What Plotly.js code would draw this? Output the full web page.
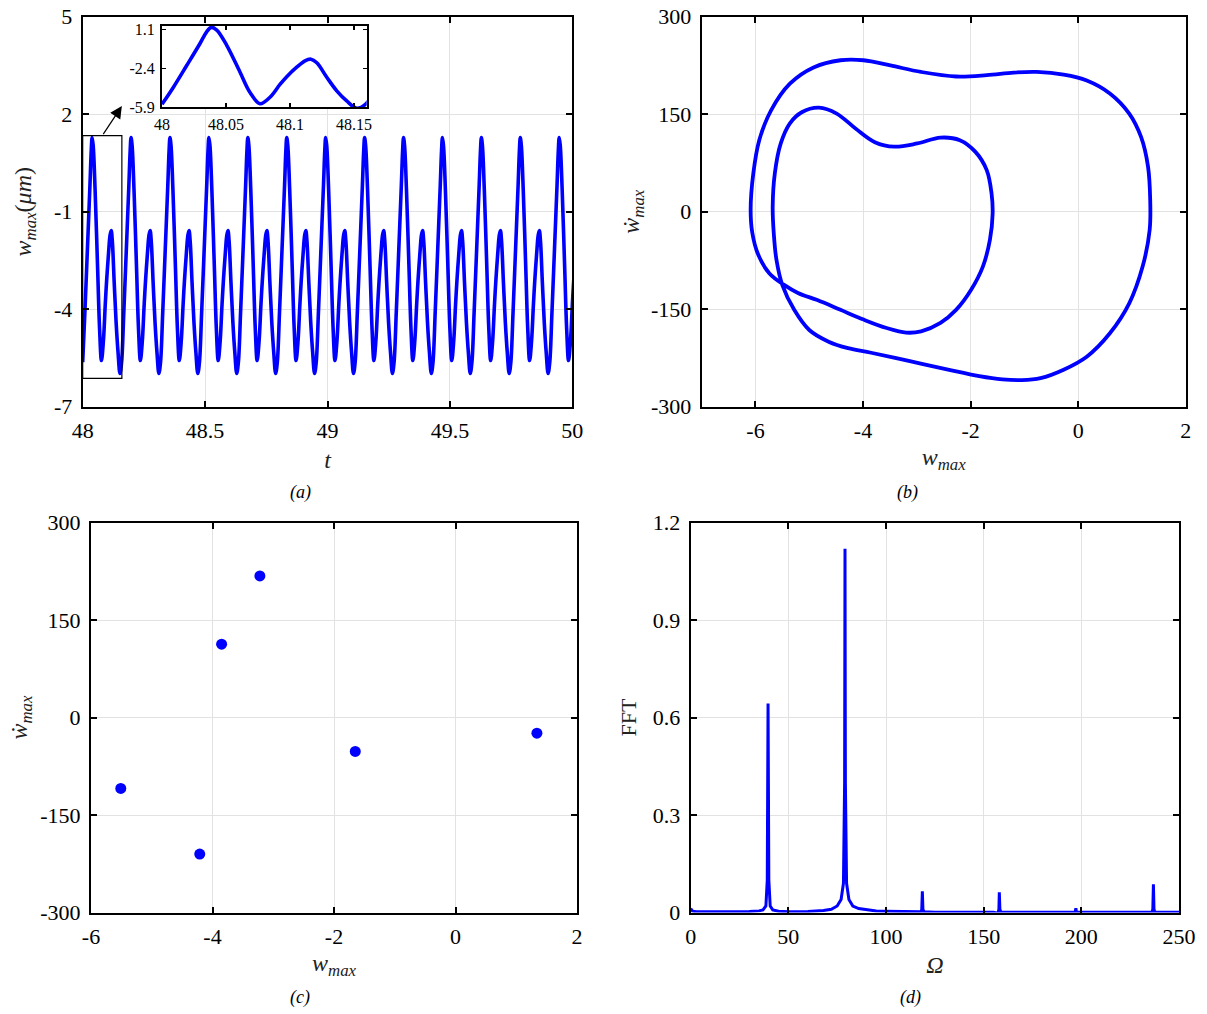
<!DOCTYPE html>
<html>
<head>
<meta charset="utf-8">
<script src="https://cdn.plot.ly/plotly-3.0.1.min.js"></script>
<style>
html,body{margin:0;padding:0;background:#ffffff;}
#chart{width:1207px;height:1014px;}
</style>
</head>
<body>
<div id="chart"></div>
<script>
const periodPhase = [0.0000, 0.0088, 0.0193, 0.0297, 0.0349, 0.0385, 0.0428, 0.0506, 0.0610, 0.0688,
                     0.0766, 0.0844, 0.0922, 0.0975, 0.1053, 0.1118, 0.1164, 0.1210, 0.1288, 0.1366,
                     0.1444, 0.1522];
const periodW     = [-5.63, -4.12, -2.15, -0.17, 0.88, 1.28, 1.04, -0.33, -2.75, -4.57,
                     -5.58, -5.00, -3.85, -3.15, -2.30, -1.72, -1.58, -1.90, -3.20, -4.42,
                     -5.33, -5.98];
const period = 0.159;          // repetition period of the steady-state response
const timeWindow = [48, 50];
const insetWindow = [48, 48.16];
const insetYWindow = [-5.9, 1.43];

// tick labels
const tTicks = [48, 48.5, 49, 49.5, 50];
const tTickText = ['48', '48.5', '49', '49.5', '50'];
const wTicksA = [-7, -4, -1, 2, 5];
const wTickTextA = ['-7', '-4', '-1', '2', '5'];
const insetXTicks = [48, 48.05, 48.1, 48.15];
const insetXTickText = ['48', '48.05', '48.1', '48.15'];
const insetYTicks = [-5.9, -2.4, 1.1];
const insetYTickText = ['-5.9', '-2.4', '1.1'];

// ---------- (b) phase portrait (w_max, dw_max/dt) over one period ----------
const phaseW = [-6.09, -6.04, -5.93, -5.71, -5.36, -4.92, -4.42, -3.99, -3.49, -2.92,
                -2.27, -1.70, -1.20, -0.77, -0.27, 0.16, 0.59, 0.95, 1.17, 1.30,
                1.34, 1.33, 1.20, 0.95, 0.59, 0.16, -0.27, -0.70, -1.05, -1.41,
                -1.84, -2.42, -3.13, -3.85, -4.28, -4.64, -5.00, -5.28, -5.50, -5.61,
                -5.66, -5.68, -5.64, -5.53, -5.36, -5.14, -4.82, -4.49, -4.14, -3.78,
                -3.42, -2.99, -2.56, -2.20, -1.91, -1.70, -1.61, -1.59, -1.64, -1.77,
                -1.99, -2.27, -2.56, -2.92, -3.20, -3.56, -3.99, -4.42, -4.85, -5.21,
                -5.46, -5.74, -5.95, -6.06, -6.09];
const phaseWdot = [3, 59, 110, 156, 197, 222, 233, 233, 225, 215,
                   208, 210, 214, 215, 211, 202, 182, 151, 115, 69,
                   18, -28, -84, -141, -187, -223, -243, -256, -259, -258,
                   -253, -243, -230, -217, -210, -200, -182, -151, -113, -74,
                   -33, 8, 59, 105, 136, 153, 160, 151, 128, 107,
                   100, 105, 114, 110, 92, 64, 28, -3, -43, -84,
                   -120, -151, -171, -184, -186, -179, -166, -151, -136, -125,
                   -113, -95, -66, -32, 3];
const wTicksB = [-6, -4, -2, 0, 2];
const wTickTextB = ['-6', '-4', '-2', '0', '2'];
const wdotTicks = [-300, -150, 0, 150, 300];
const wdotTickText = ['-300', '-150', '0', '150', '300'];

// ---------- (c) Poincaré section ----------
const poincareW    = [-3.22, -3.85, -5.51, -4.21, -1.65, 1.34];
const poincareWdot = [218, 113, -109, -210, -52, -24];

// ---------- (d) frequency spectrum ----------
const fftOmega = [0, 1, 3, 20, 30, 35, 37, 38.5, 39.2, 39.6, 40.0, 40.7, 42, 45, 50,
                  60, 68, 72, 75, 77, 78.2, 78.8, 79.0, 79.2, 79.8, 81, 83, 86, 90, 95,
                  100, 110, 117.2, 117.8, 118.3, 118.6, 118.9, 119.4, 125, 140, 155,
                  157.3, 157.8, 158.0, 158.3, 158.8, 170, 190, 196.8, 197.2, 197.5, 197.9, 205,
                  225, 236.2, 236.6, 236.9, 237.2, 237.6, 245, 250];
const fftAmp   = [0.012, 0.004, 0.002, 0.002, 0.003, 0.005, 0.008, 0.02, 0.1, 0.643, 0.1, 0.02, 0.008, 0.004, 0.002,
                  0.003, 0.006, 0.01, 0.02, 0.04, 0.09, 0.4, 1.12, 0.4, 0.09, 0.04, 0.02, 0.012, 0.008, 0.005,
                  0.004, 0.003, 0.002, -0.002, 0.01, 0.065, 0.01, 0.002, 0.001, 0.001, 0.001,
                  -0.002, 0.01, 0.062, 0.01, 0.001, 0.001, 0.001, 0.001, 0.013, 0.001, 0.001, 0.001,
                  0.001, 0.001, 0.01, 0.087, 0.01, 0.001, 0.001, 0.001];
const omegaTicks = [0, 50, 100, 150, 200, 250];
const omegaTickText = ['0', '50', '100', '150', '200', '250'];
const fftTicks = [0, 0.3, 0.6, 0.9, 1.2];
const fftTickText = ['0', '0.3', '0.6', '0.9', '1.2'];

// ---------- build the periodic time series from the read period ----------
const tSeries = [], wSeries = [];
for (let k = 0; timeWindow[0] + k * period <= timeWindow[1] + period; k++) {
  for (let i = 0; i < periodPhase.length; i++) {
    tSeries.push(+(timeWindow[0] + k * period + periodPhase[i]).toFixed(5));
    wSeries.push(periodW[i]);
  }
}

// ---------- layout helpers ----------
const W = 1207, H = 1014;
const fx = p => p / W;
const fy = p => 1 - p / H;
const FONT = '"Liberation Serif", "Times New Roman", Times, serif';
const BLUE = '#0000ff';

function axis(extra) {
  return Object.assign({
    showline: true, linecolor: '#000', linewidth: 2, mirror: 'ticks',
    ticks: 'inside', ticklen: 6, tickwidth: 2, tickcolor: '#000',
    showgrid: true, gridcolor: '#e2e2e2', gridwidth: 1, zeroline: false,
    tickfont: {family: FONT, size: 22, color: '#000'},
    automargin: false, fixedrange: true
  }, extra);
}
const titleFont = {family: FONT, size: 24, color: '#222'};
const insetTickFont = {family: FONT, size: 16, color: '#000'};
const captionFont = {family: FONT, size: 18, color: '#000'};

const traces = [
  {x: tSeries, y: wSeries, xaxis: 'x', yaxis: 'y', mode: 'lines',
   line: {color: BLUE, width: 3.6, shape: 'spline', smoothing: 1}, hoverinfo: 'skip'},
  {x: phaseW, y: phaseWdot, xaxis: 'x2', yaxis: 'y2', mode: 'lines',
   line: {color: BLUE, width: 3.8, shape: 'spline', smoothing: 1}, hoverinfo: 'skip'},
  {x: poincareW, y: poincareWdot, xaxis: 'x3', yaxis: 'y3', mode: 'markers',
   marker: {color: BLUE, size: 11}, hoverinfo: 'skip'},
  {x: fftOmega, y: fftAmp, xaxis: 'x4', yaxis: 'y4', mode: 'lines',
   line: {color: BLUE, width: 3}, hoverinfo: 'skip'},
  {x: tSeries, y: wSeries, xaxis: 'x5', yaxis: 'y5', mode: 'lines',
   line: {color: BLUE, width: 3.6, shape: 'spline', smoothing: 1}, hoverinfo: 'skip'}
];

const boxY = [Math.min(...periodW) - 0.15, Math.max(...periodW) + 0.06];

function caption(px, py, label) {
  return {xref: 'paper', yref: 'paper', x: fx(px), y: fy(py), xanchor: 'center', yanchor: 'middle',
          text: '<i>' + label + '</i>', showarrow: false, font: captionFont};
}

const layout = {
  width: W, height: H,
  margin: {l: 0, r: 0, t: 0, b: 0},
  paper_bgcolor: '#fff', plot_bgcolor: '#fff',
  showlegend: false,
  font: {family: FONT, color: '#000'},
  xaxis: axis({domain: [fx(82.7), fx(572.3)], range: timeWindow, tickvals: tTicks, ticktext: tTickText,
               anchor: 'y', ticklabelstandoff: 3,
               title: {text: '<i>t</i>', font: titleFont, standoff: 9}}),
  yaxis: axis({domain: [fy(406.7), fy(16.7)], range: [-7, 5], tickvals: wTicksA, ticktext: wTickTextA,
               anchor: 'x', ticklabelstandoff: 4,
               title: {text: '<i>w</i><sub><i>max</i></sub>(<i>μm</i>)', font: titleFont, standoff: 16}}),
  xaxis2: axis({domain: [fx(701.7), fx(1185.7)], range: [-7, 2], tickvals: wTicksB, ticktext: wTickTextB,
                anchor: 'y2', ticklabelstandoff: 3,
                title: {text: '<i>w</i><sub><i>max</i></sub>', font: titleFont, standoff: 6}}),
  yaxis2: axis({domain: [fy(406.7), fy(16.7)], range: [-300, 300], tickvals: wdotTicks, ticktext: wdotTickText,
                anchor: 'x2', ticklabelstandoff: 4,
                title: {text: '<i>ẇ</i><sub><i>max</i></sub>', font: titleFont, standoff: 5}}),
  xaxis3: axis({domain: [fx(91), fx(577)], range: [-6, 2], tickvals: wTicksB, ticktext: wTickTextB,
                anchor: 'y3', ticklabelstandoff: 3,
                title: {text: '<i>w</i><sub><i>max</i></sub>', font: titleFont, standoff: 6}}),
  yaxis3: axis({domain: [fy(912.5), fy(522.7)], range: [-300, 300], tickvals: wdotTicks, ticktext: wdotTickText,
                anchor: 'x3', ticklabelstandoff: 4,
                title: {text: '<i>ẇ</i><sub><i>max</i></sub>', font: titleFont, standoff: 6}}),
  xaxis4: axis({domain: [fx(690.7), fx(1179)], range: [0, 250], tickvals: omegaTicks, ticktext: omegaTickText,
                anchor: 'y4', ticklabelstandoff: 3,
                title: {text: '<i>Ω</i>', font: titleFont, standoff: 8}}),
  yaxis4: axis({domain: [fy(912.5), fy(522.7)], range: [0, 1.2], tickvals: fftTicks, ticktext: fftTickText,
                anchor: 'x4', ticklabelstandoff: 4,
                title: {text: 'FFT', font: Object.assign({}, titleFont, {size: 22}), standoff: 10}}),
  xaxis5: axis({domain: [fx(162), fx(366.7)], range: insetWindow, tickvals: insetXTicks, ticktext: insetXTickText,
                anchor: 'y5', showgrid: false, ticklen: 4, tickwidth: 1.5, ticklabelstandoff: 1,
                tickfont: insetTickFont}),
  yaxis5: axis({domain: [fy(107.3), fy(25.7)], range: insetYWindow, tickvals: insetYTicks, ticktext: insetYTickText,
                anchor: 'x5', showgrid: false, ticklen: 4, tickwidth: 1.5, ticklabelstandoff: 2,
                tickfont: insetTickFont}),
  shapes: [
    {type: 'rect', xref: 'x', yref: 'y', x0: insetWindow[0], x1: insetWindow[1], y0: boxY[0], y1: boxY[1],
     line: {color: '#000', width: 1.2}, fillcolor: 'rgba(0,0,0,0)'}
  ],
  annotations: [
    {xref: 'x', yref: 'y', x: insetWindow[1], y: 2.25, axref: 'x', ayref: 'y',
     ax: (insetWindow[0] + insetWindow[1]) / 2, ay: boxY[1], text: '', showarrow: true,
     arrowhead: 2, arrowsize: 2, arrowwidth: 1.2, arrowcolor: '#000'},
    caption(300, 493, '(a)'),
    caption(908, 493, '(b)'),
    caption(300, 997, '(c)'),
    caption(910, 997, '(d)')
  ]
};

Plotly.newPlot('chart', traces, layout, {staticPlot: true, displayModeBar: false});
</script>
</body>
</html>
